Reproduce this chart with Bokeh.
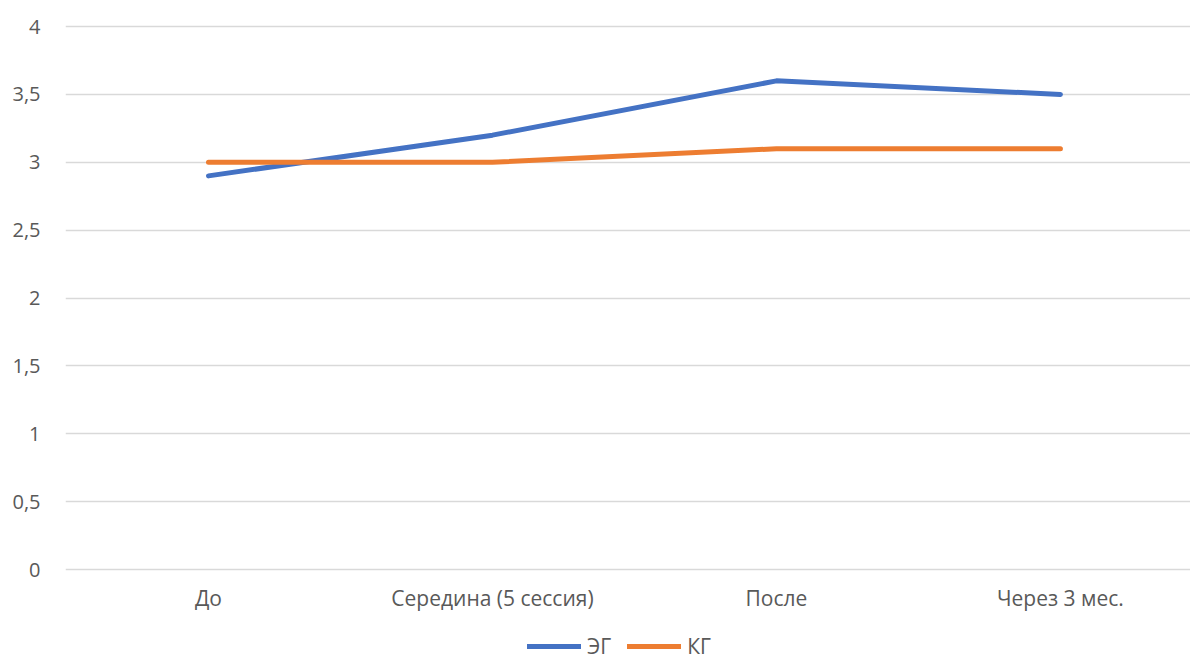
from bokeh.plotting import figure
from bokeh.models import Range1d, FixedTicker, CustomJSTickFormatter, Legend, LegendItem
from bokeh.embed import file_html
from bokeh.resources import INLINE

categories = ["До", "Середина (5 сессия)", "После", "Через 3 мес."]
eg_values = [2.9, 3.2, 3.6, 3.5]
kg_values = [3.0, 3.0, 3.1, 3.1]
series_names = ["ЭГ", "КГ"]
y_ticks = [0, 0.5, 1, 1.5, 2, 2.5, 3, 3.5, 4]

FONT = "Open Sans"
TEXT = "#595959"

x = list(range(len(categories)))

p = figure(width=1190, height=660, output_backend="svg", toolbar_location=None,
           x_range=Range1d(-0.5035, 3.458), y_range=Range1d(-0.67, 4.03),
           min_border_left=65, min_border_right=0, min_border_top=22, min_border_bottom=0)
p.outline_line_color = None
p.background_fill_color = "white"
p.border_fill_color = "white"

r1 = p.line(x, eg_values, line_color="#4472C4", line_width=5, line_cap="round", line_join="round")
r2 = p.line(x, kg_values, line_color="#ED7D31", line_width=5, line_cap="round", line_join="round")

p.xgrid.grid_line_color = None
p.ygrid.grid_line_color = "#D9D9D9"
p.ygrid.grid_line_width = 1.3

p.yaxis.ticker = FixedTicker(ticks=y_ticks)
p.yaxis.formatter = CustomJSTickFormatter(code="return tick.toString().replace('.', ',');")
p.xaxis.ticker = FixedTicker(ticks=x)
p.xaxis.formatter = CustomJSTickFormatter(args=dict(labels=categories),
                                          code="return labels[Math.round(tick)];")
p.xaxis.fixed_location = 0
for ax in (p.xaxis[0], p.yaxis[0]):
    ax.axis_line_color = None
    ax.major_tick_line_color = None
    ax.minor_tick_line_color = None
    ax.major_label_text_font = FONT
    ax.major_label_text_color = TEXT
p.xaxis.major_label_text_font_size = "21px"
p.yaxis.major_label_text_font_size = "20px"
p.yaxis.major_label_standoff = 19
p.xaxis.major_label_standoff = 8

legend = Legend(items=[LegendItem(label=series_names[0], renderers=[r1]),
                       LegendItem(label=series_names[1], renderers=[r2])],
                orientation="horizontal", location=(462, 0),
                glyph_width=54, glyph_height=16, label_height=16, label_standoff=6,
                spacing=16, padding=0, margin=0, border_line_color=None,
                background_fill_alpha=0,
                label_text_font=FONT, label_text_font_size="21px", label_text_color=TEXT)
p.add_layout(legend, "center")

open("out.html", "w").write(file_html(p, INLINE))
